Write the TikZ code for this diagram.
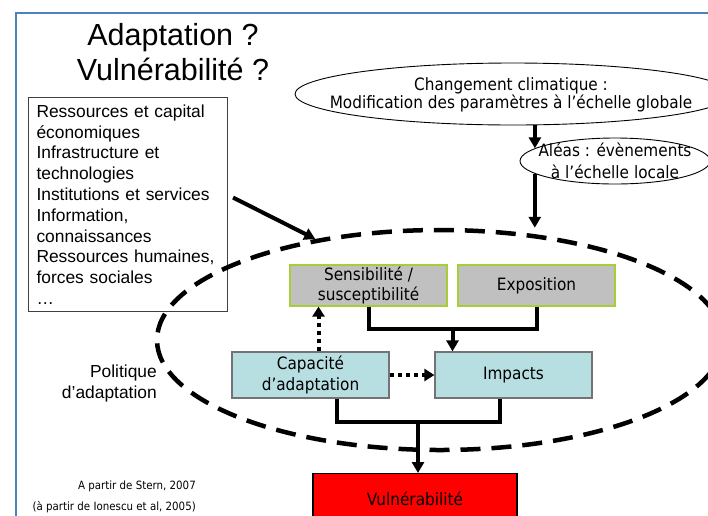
\documentclass[tikz,border=0pt]{standalone}
\usepackage{fontspec}
\setmainfont{Liberation Sans}
\newfontfamily\tahomalike[FakeStretch=0.9]{DejaVu Sans}
\usetikzlibrary{shapes.geometric,arrows.meta,calc}
\definecolor{frameblue}{RGB}{79,129,189}
\definecolor{boxgray}{RGB}{192,192,192}
\definecolor{boxgreen}{RGB}{166,206,57}
\definecolor{boxcyan}{RGB}{183,222,225}
\begin{document}
\begin{tikzpicture}[x=1pt,y=-1pt,
  tah/.style={font=\tahomalike\fontsize{17}{20.5}\selectfont},
  cloud/.style={draw, ellipse, inner sep=0pt, line width=0.9pt},
  graybox/.style={draw=boxgreen, line width=1.2pt, fill=boxgray, minimum width=157pt, minimum height=41pt, inner sep=0pt, align=center, tah},
  cyanbox/.style={draw=black!55, line width=1.2pt, fill=boxcyan, minimum width=157pt, minimum height=46pt, inner sep=0pt, align=center, tah},
  link/.style={line width=4pt},
  arrowlink/.style={line width=4pt, -{Triangle[length=11pt,width=12pt]}},
  dotlink/.style={line width=4pt, dash pattern=on 4pt off 4pt, -{Triangle[length=10pt,width=12pt]}},
  titlefont/.style={font=\fontsize{30.5}{35}\selectfont, inner sep=0pt}]
  \useasboundingbox (0,0) rectangle (708,515);
  \clip (0,0) rectangle (708,515);
  \fill[white] (0,0) rectangle (708,515);
  \draw[frameblue, line width=2.5pt] (16,530) -- (16,13) -- (720,13);

  \node[titlefont, anchor=base] (tadapt) at (173,45) {Adaptation ?};
  \node[titlefont, anchor=base] (tvuln) at (173,80) {Vulnérabilité ?};

  \node[draw=black!75, line width=1pt, anchor=north west, text width=183pt, inner xsep=8pt, inner ysep=0pt,
        minimum height=214pt, align=left, font=\fontsize{17.4}{20.8}\selectfont] (res) at (28,97)
    {Ressources et capital\\économiques\\Infrastructure et\\technologies\\Institutions et services\\Information,\\connaissances\\Ressources humaines,\\forces sociales\\…};

  \node[cloud, minimum width=436pt, minimum height=62pt] (ccg) at (513,94) {};
  \node[tah, font=\tahomalike\fontsize{17}{17}\selectfont, align=center, inner sep=0pt] (ccgtext) at (511,95)
    {Changement climatique :\\Modification des paramètres à l’échelle globale};
  \node[cloud, minimum width=190pt, minimum height=46pt] (alea) at (615,161) {};
  \node[tah, font=\tahomalike\fontsize{17}{21.5}\selectfont, align=center, inner sep=0pt] (aleatext) at (615,161)
    {Aléas : évènements\\à l’échelle locale};

  \node[draw, ellipse, minimum width=566pt, minimum height=220pt, inner sep=0pt, line width=4.5pt,
        dash pattern=on 20pt off 11pt] (pol) at (440,340) {};

  \node[graybox] (sens) at (368.5,285.5) {Sensibilité /\\susceptibilité};
  \node[graybox] (expo) at (536.5,285.5) {Exposition};
  \node[cyanbox] (cap) at (310.5,375) {Capacité\\d’adaptation};
  \node[cyanbox] (imp) at (513.5,375) {Impacts};
  \node[draw, line width=1.2pt, fill=red, minimum width=204pt, minimum height=50pt, anchor=north, tah] (vul) at (415,473) {Vulnérabilité};

  \node[align=right, anchor=east, inner sep=0pt, font=\fontsize{17.4}{21}\selectfont] (polit) at (157,383) {Politique\\d’adaptation};
  \node[align=right, anchor=east, inner sep=0pt, font=\tahomalike\fontsize{11.4}{21}\selectfont] (src) at (196,497)
    {A partir de Stern, 2007\\(à partir de Ionescu et al, 2005)};

  \draw[arrowlink] (ccg.305) -- (ccg.305 |- alea.171);
  \draw[arrowlink] (alea.189) -- (alea.189 |- pol.north);
  \draw[arrowlink] ([xshift=5pt,yshift=7pt]res.east) -- (pol.141);

  \draw[link] (sens.south) -- ++(0,22) coordinate (sejoin) -| (expo.south);
  \coordinate (se) at ($(sens.south)!0.5!(expo.south)+(0,22)$);
  \draw[arrowlink] (se) -- (se |- imp.north);

  \coordinate (capup) at ([xshift=8pt]cap.north);
  \draw[dotlink] (capup) -- (capup |- sens.south);
  \draw[dotlink] (cap.east) -- (imp.west);

  \draw[link] ([xshift=26pt]cap.south) -- ++(0,23) -| ([xshift=-14pt]imp.south);
  \coordinate (ci) at ($([xshift=26pt]cap.south)!0.5!([xshift=-14pt]imp.south)+(0,23)$);
  \draw[arrowlink] (ci) -- (ci |- vul.north);
\end{tikzpicture}
\end{document}
